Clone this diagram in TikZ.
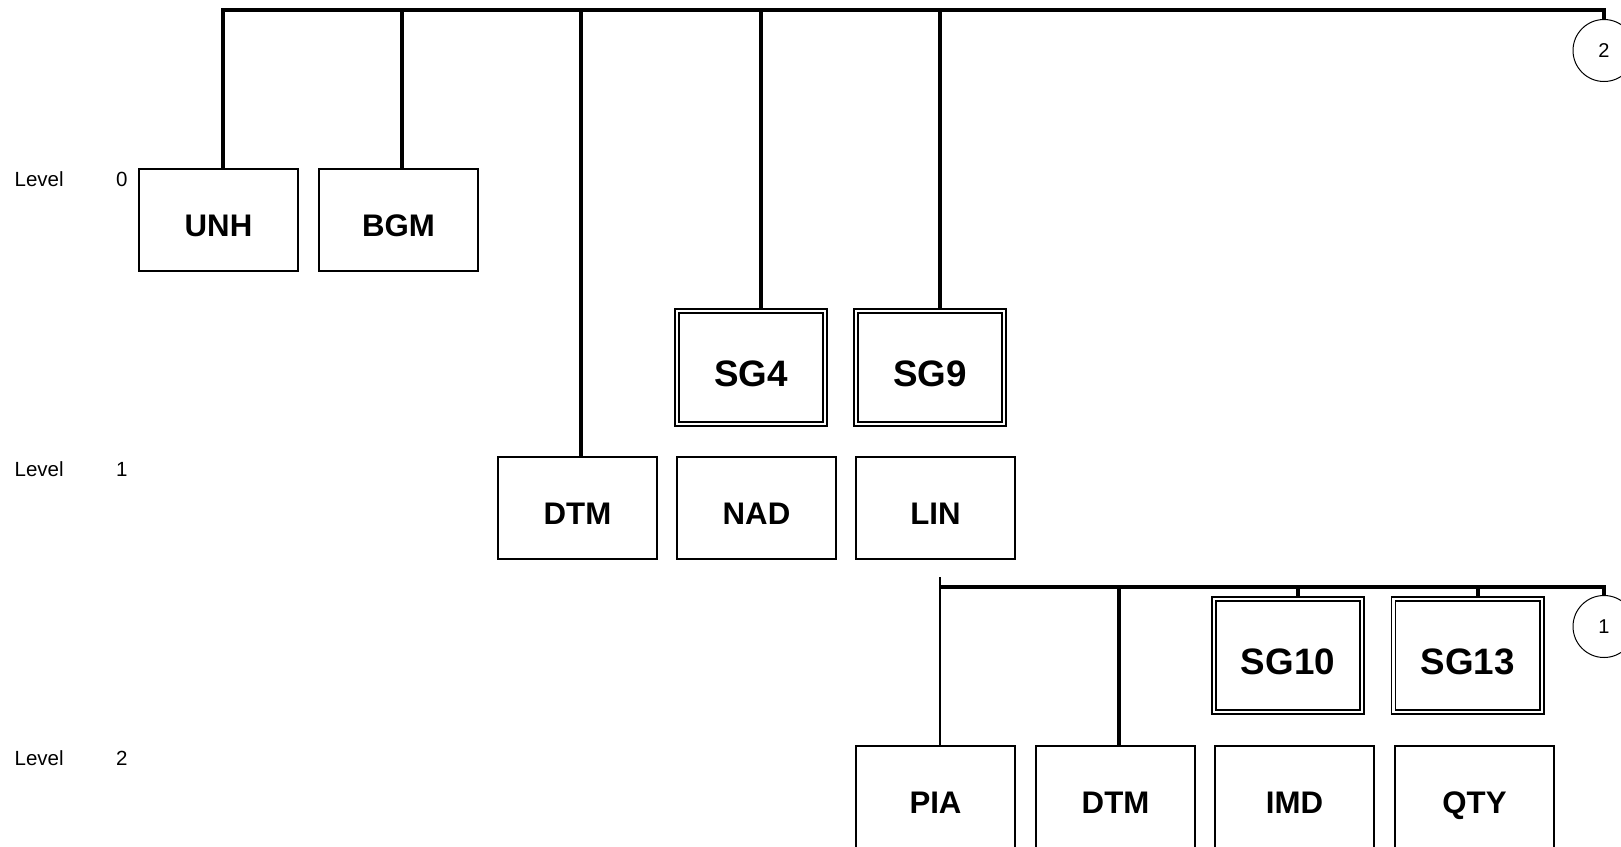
\documentclass[tikz,border=0pt]{standalone}
\usepackage{fontspec}
\setmainfont{Liberation Sans}
\begin{document}
\begin{tikzpicture}[x=1pt,y=-1pt,
  regbox/.style={draw, rectangle, line width=2.1pt, inner sep=0pt, outer sep=1.05pt,
    minimum width=158.9pt, minimum height=101.9pt,
    font=\bfseries\fontsize{31.2}{31.2}\selectfont, text height=32.3pt, text depth=0pt},
  dblbox/.style={draw, rectangle, double, line width=1.9pt, double distance=2.1pt,
    inner sep=0pt, outer sep=2.95pt,
    minimum width=148.1pt, minimum height=113.6pt,
    font=\bfseries\fontsize{36.8}{36.8}\selectfont, text height=38.3pt, text depth=0pt},
  wire/.style={draw, line width=3.3pt, line join=miter},
  thinwire/.style={draw, line width=2.7pt},
  endcirc/.style={draw, circle, line width=1pt, inner sep=0pt, outer sep=0.5pt,
    minimum size=62pt, font=\fontsize{20}{20}\selectfont},
  lvltext/.style={anchor=base west, inner sep=0pt, font=\fontsize{20.5}{20.5}\selectfont}
]
\clip (0,0) rectangle (1621,846);
\fill[white] (0,0) rectangle (1621,846);

% level labels
\node[lvltext] (lv0) at (14.5,186) {Level};
\node[lvltext] (nm0) at (116,186) {0};
\node[lvltext] (lv1) at (14.5,476.5) {Level};
\node[lvltext] (nm1) at (116,476.5) {1};
\node[lvltext] (lv2) at (14.5,765.5) {Level};
\node[lvltext] (nm2) at (116,765.5) {2};

% level 0
\node[regbox] (UNH) at (218.5,220) {UNH};
\node[regbox] (BGM) at (398.5,220) {BGM};

% level 1
\node[dblbox] (SG4) at (751,367.5) {SG4};
\node[dblbox] (SG9) at (930,367.5) {SG9};
\node[regbox] (DTMa) at (577.5,508) {DTM};
\node[regbox] (NAD) at (756.5,508) {NAD};
\node[regbox] (LIN) at (935.5,508) {LIN};

% level 2
\node[dblbox] (SG10) at (1288,655.5) {SG10};
\node[dblbox] (SG13) at (1467.5,655.5) {SG13};
\node[regbox] (PIA) at (935.5,797) {PIA};
\node[regbox] (DTMb) at (1115.5,797) {DTM};
\node[regbox] (IMD) at (1294.5,797) {IMD};
\node[regbox] (QTY) at (1474.5,797) {QTY};

% off-page connectors
\node[endcirc] (C2) at (1604,50.5) {2};
\node[endcirc] (C1) at (1604,626.5) {1};

% top bus
\coordinate (b1) at (223,10);
\coordinate (b2) at (402,10);
\coordinate (b3) at (581,10);
\coordinate (b4) at (761,10);
\coordinate (b5) at (940,10);
\coordinate (bE) at (1604,10);
\draw[wire] (b1 |- UNH.north) -- (b1) -- (bE) -- (C2.north);
\draw[wire] (b2) -- (b2 |- BGM.north);
\draw[wire] (b3) -- (b3 |- DTMa.north);
\draw[wire] (b4) -- (b4 |- SG4.north);
\draw[wire] (b5) -- (b5 |- SG9.north);

% second bus
\coordinate (s0) at (940,577);
\coordinate (s1) at (940,587);
\coordinate (s2) at (1119,587);
\coordinate (s3) at (1298,587);
\coordinate (s4) at (1478,587);
\coordinate (sE) at (1604,587);
\draw[thinwire] (s0) -- (s0 |- PIA.north);
\draw[wire] (s1) -- (sE) -- (C1.north);
\draw[wire] (s2) -- (s2 |- DTMb.north);
\draw[wire] (s3) -- (s3 |- SG10.north);
\draw[wire] (s4) -- (s4 |- SG13.north);
\end{tikzpicture}
\end{document}
